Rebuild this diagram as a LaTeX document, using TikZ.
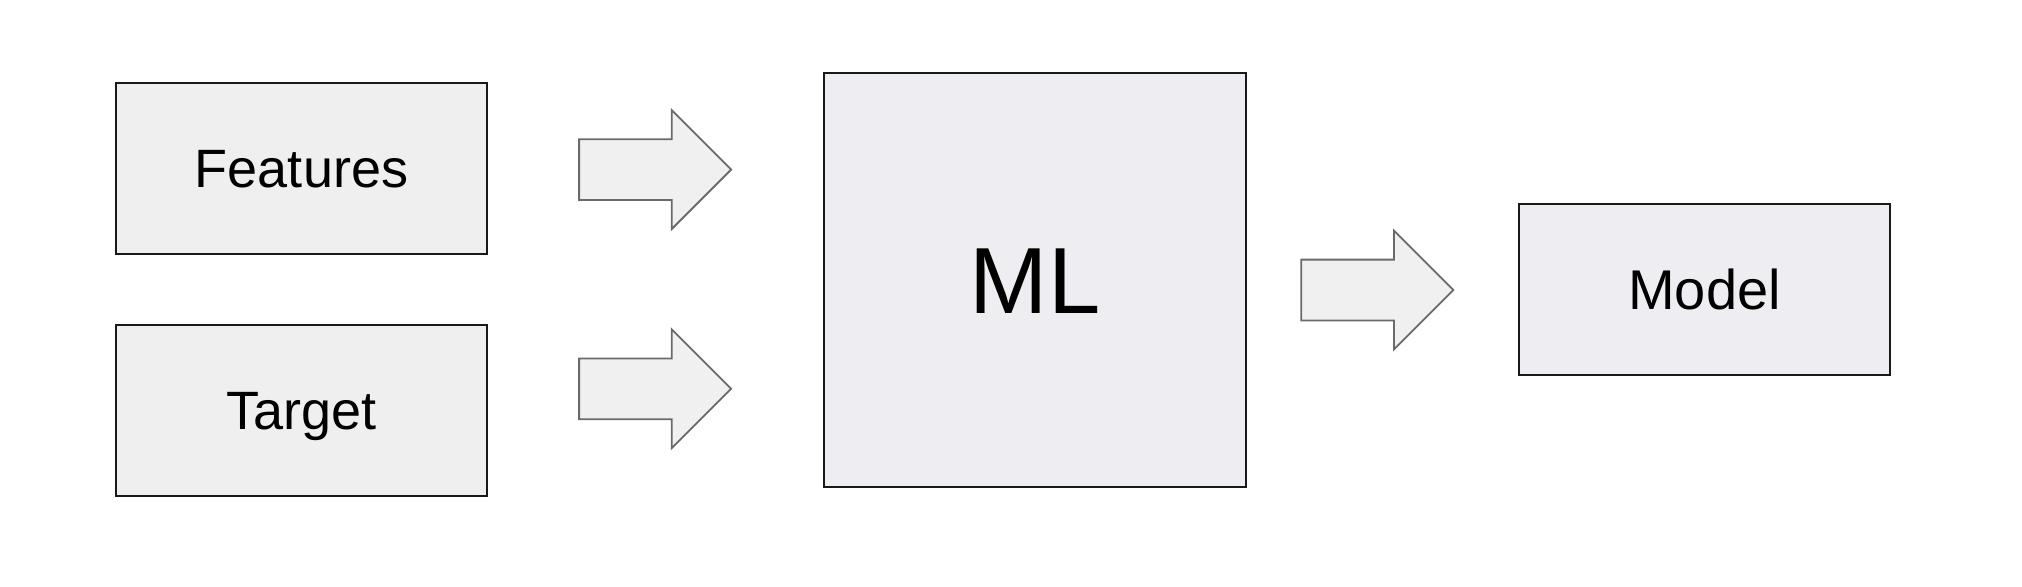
\documentclass[tikz,border=0pt]{standalone}
\usepackage{fontspec}
\setmainfont{Liberation Sans}
\usetikzlibrary{shapes.arrows}
\definecolor{boxfill}{HTML}{EFEFEF}
\definecolor{mlfill}{HTML}{EEEDF1}
\definecolor{arrline}{HTML}{6A6A6A}
\definecolor{arrfill}{HTML}{F0F0F0}
\begin{document}
\begin{tikzpicture}[x=0.5pt,y=-0.5pt,
  blockbox/.style={draw=black!90,line width=1pt,fill=boxfill,inner sep=0pt,
    text height=19.3pt,text depth=0pt,
    minimum width=185.5pt,minimum height=85.5pt,font=\fontsize{27}{30}\selectfont},
  fatarrow/.style={single arrow,draw=arrline,line width=0.9pt,fill=arrfill,
    inner xsep=0pt,inner ysep=14.75pt,minimum height=76pt,
    single arrow head extend=14.5pt,shape border rotate=0,anchor=tip}]
\useasboundingbox (0,0) rectangle (2022,586);
\fill[white] (0,0) rectangle (2022,586);
\node[blockbox] (feat) at (301.5,168.5) {Features};
\node[blockbox] (targ) at (301.5,410.5) {Target};
\node[blockbox,fill=mlfill,minimum width=211pt,minimum height=207pt,
  text height=33.7pt,font=\fontsize{47}{52}\selectfont] (ml) at (1035,280) {ML};
\node[blockbox,fill=mlfill,text height=20pt,font=\fontsize{28}{31}\selectfont] (model) at (1704.5,289.5) {Model};
\node[fatarrow] (a1) at (732.4,169.6) {};
\node[fatarrow] (a2) at (732.4,388.8) {};
\node[fatarrow] (a3) at (1454.6,290) {};
\end{tikzpicture}
\end{document}
